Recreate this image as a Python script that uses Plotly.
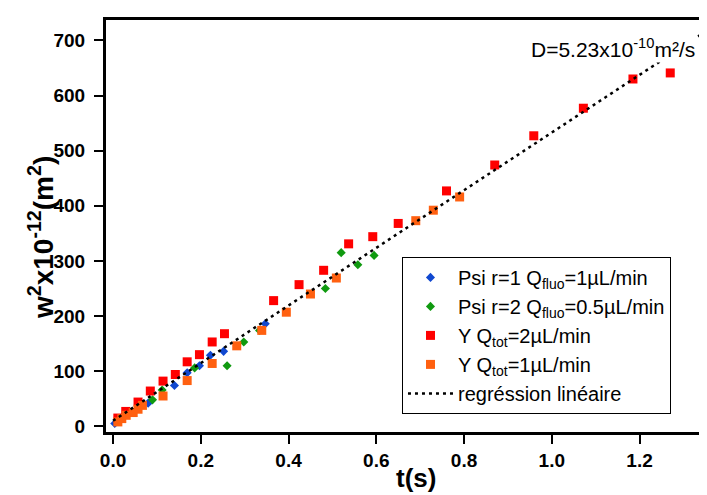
import plotly.graph_objects as go

# ---- data ----
blue_t = [0.004, 0.080, 0.140, 0.169, 0.197, 0.222, 0.252, 0.347]
blue_v = [5, 42, 74, 97, 110, 129, 136, 186]

green_t = [0.090, 0.112, 0.186, 0.260, 0.298, 0.334, 0.484, 0.520, 0.558, 0.595]
green_v = [48, 66, 106, 110, 153, 174, 250, 315, 293, 310]

red_t = [0.011, 0.029, 0.057, 0.085, 0.114, 0.142, 0.169, 0.197, 0.226, 0.254,
         0.366, 0.424, 0.480, 0.537, 0.592, 0.650, 0.760, 0.870, 0.959, 1.072,
         1.185, 1.270]
red_v = [15, 27, 44, 64, 82, 94, 117, 130, 153, 168,
         228, 257, 283, 331, 344, 368, 427, 474, 527, 577,
         630, 641]

orange_t = [0.011, 0.020, 0.030, 0.046, 0.057, 0.067, 0.114, 0.169, 0.226, 0.282,
            0.339, 0.395, 0.450, 0.509, 0.690, 0.730, 0.790]
orange_v = [8, 14, 20, 25, 31, 38, 55, 83, 114, 146,
            174, 207, 240, 269, 373, 392, 416]

reg_t = [0.0, 1.40]
reg_v = [10, 742]

x_ticks = [0.0, 0.2, 0.4, 0.6, 0.8, 1.0, 1.2]
x_tick_labels = ["0.0", "0.2", "0.4", "0.6", "0.8", "1.0", "1.2"]
y_ticks = [0, 100, 200, 300, 400, 500, 600, 700]

FONT = "Liberation Sans, Arial, sans-serif"

fig = go.Figure()
fig.add_trace(go.Scatter(x=blue_t, y=blue_v, mode="markers",
                         name="Psi r=1 Q<sub>fluo</sub>=1µL/min",
                         marker=dict(symbol="diamond", size=7, color="#1048D0")))
fig.add_trace(go.Scatter(x=green_t, y=green_v, mode="markers",
                         name="Psi r=2 Q<sub>fluo</sub>=0.5µL/min",
                         marker=dict(symbol="diamond", size=7, color="#109A10")))
fig.add_trace(go.Scatter(x=red_t, y=red_v, mode="markers",
                         name="Y Q<sub>tot</sub>=2µL/min",
                         marker=dict(symbol="square", size=9, color="#FF0000")))
fig.add_trace(go.Scatter(x=orange_t, y=orange_v, mode="markers",
                         name="Y Q<sub>tot</sub>=1µL/min",
                         marker=dict(symbol="square", size=9, color="#FF6010")))
fig.add_trace(go.Scatter(x=reg_t, y=reg_v, mode="lines",
                         name="regréssion linéaire",
                         line=dict(color="black", width=2.5, dash="3px,4px")))

fig.update_layout(
    width=707, height=495,
    margin=dict(l=98, r=0, t=12, b=71),
    paper_bgcolor="white", plot_bgcolor="white",
    font=dict(family=FONT, color="black"),
    showlegend=True,
    legend=dict(x=0.486, y=0.425, xanchor="left", yanchor="top",
                bordercolor="black", borderwidth=1, bgcolor="white",
                font=dict(family=FONT, size=20, color="black"),
                tracegroupgap=0, itemwidth=45),
    annotations=[
        dict(text="D=5.23x10<sup>-10</sup>m²/s", x=0.8325, y=0.932,
             xref="paper", yref="paper", xanchor="center", yanchor="middle",
             showarrow=False, bgcolor="white", borderpad=1,
             font=dict(family=FONT, size=21, color="black")),
        dict(text="t(s)", x=0.509, y=-0.112, xref="paper", yref="paper",
             xanchor="center", yanchor="middle", showarrow=False,
             font=dict(family=FONT, size=26, color="black", weight="bold")),
        dict(text="w<sup>2</sup>x10<sup>-12</sup>(m<sup>2</sup>)", x=-0.1067, y=0.471,
             xref="paper", yref="paper", xanchor="center", yanchor="middle",
             textangle=-90, showarrow=False,
             font=dict(family=FONT, size=28, color="black", weight="bold")),
    ],
)
fig.update_xaxes(range=[-0.016, 1.372], tickvals=x_ticks, ticktext=x_tick_labels,
                 showline=True, linecolor="black", linewidth=3, mirror=True,
                 ticks="outside", ticklen=9, tickwidth=2, tickcolor="black",
                 showgrid=False, zeroline=False, ticklabelstandoff=0,
                 tickfont=dict(family=FONT, size=19, color="black", weight="bold"))
fig.update_yaxes(range=[-10.3, 737], tickvals=y_ticks,
                 showline=True, linecolor="black", linewidth=3, mirror=False,
                 ticks="outside", ticklen=9, tickwidth=2, tickcolor="black",
                 showgrid=False, zeroline=False, ticklabelstandoff=5,
                 tickfont=dict(family=FONT, size=19, color="black", weight="bold"))

fig.write_html("out.html")
